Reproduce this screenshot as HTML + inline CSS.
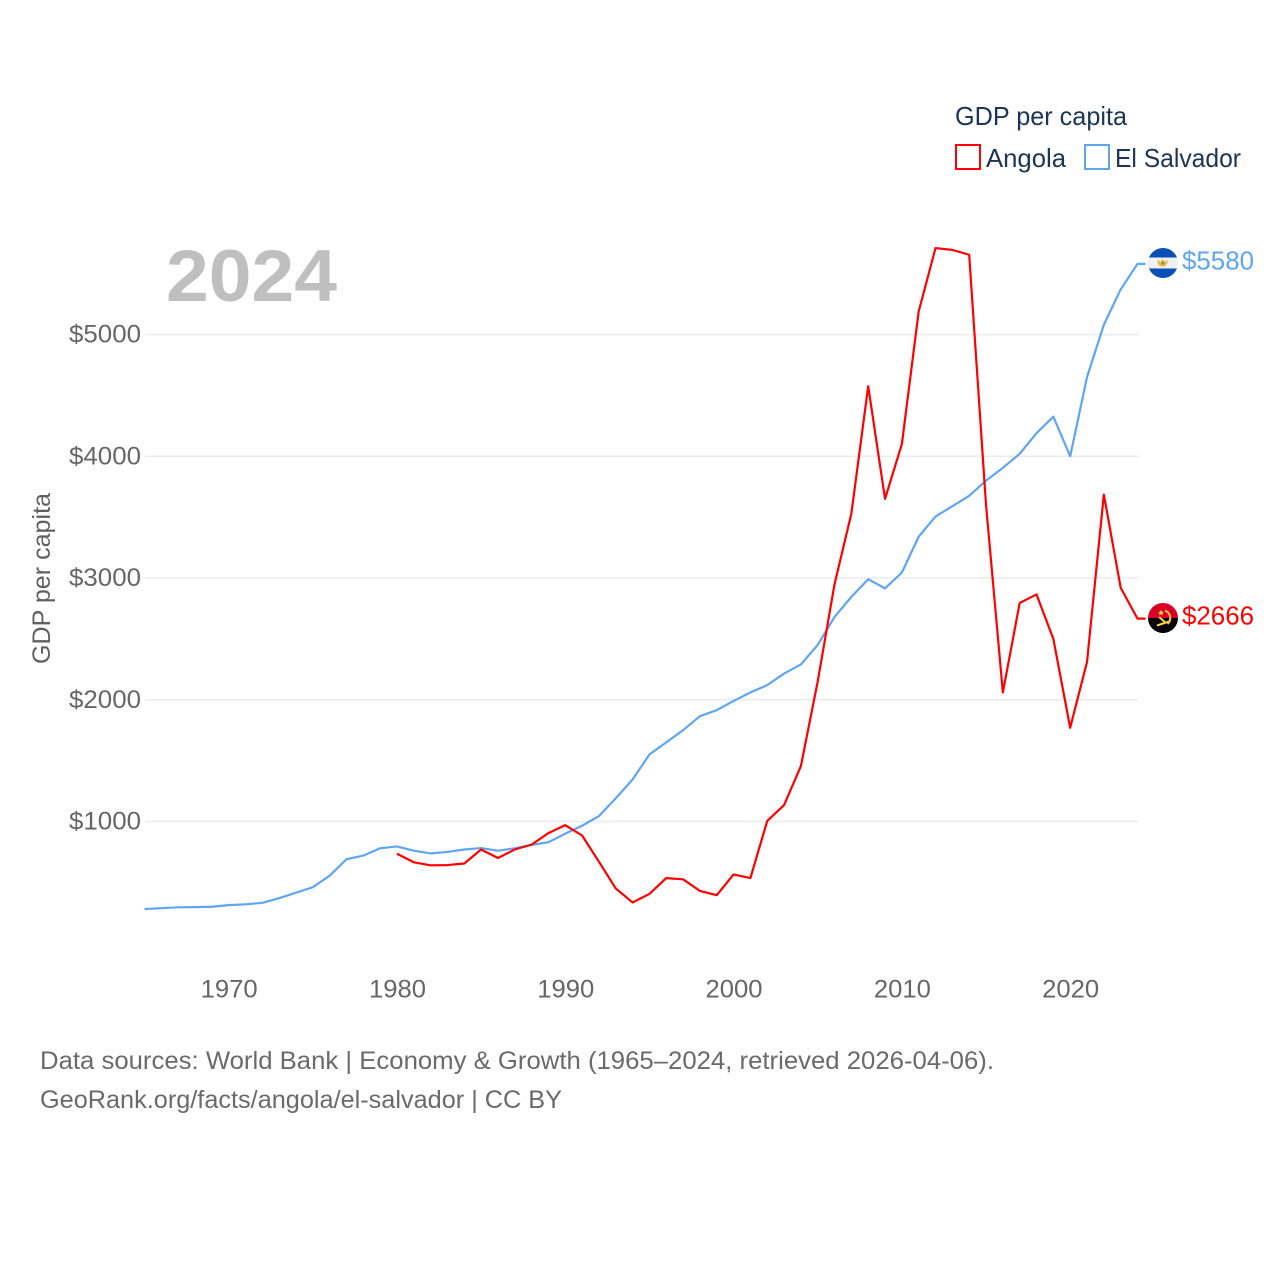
<!DOCTYPE html>
<html lang="en">
<head>
<meta charset="utf-8">
<title>GDP per capita: Angola and El Salvador</title>
<style>
html,body{margin:0;padding:0;background:#fff;}
svg{display:block;font-family:"Liberation Sans",sans-serif;}
</style>
</head>
<body>
<svg id="chart" xmlns="http://www.w3.org/2000/svg" width="1280" height="1280" viewBox="0 0 1280 1280">
  <rect x="0" y="0" width="1280" height="1280" fill="#fff"/>
  <g id="grid"></g>
  <g id="yticks"></g>
  <g id="xticks"></g>
  <text x="166" y="301" font-size="73" font-weight="bold" fill="#bfbfbf" textLength="171" lengthAdjust="spacingAndGlyphs">2024</text>
  <text transform="translate(50,664) rotate(-90)" font-size="25" fill="#5f5f5f" textLength="171" lengthAdjust="spacingAndGlyphs">GDP per capita</text>
  <g id="series"></g>

  <g>
    <text x="955" y="125" font-size="26" fill="#1b3555" textLength="172" lengthAdjust="spacingAndGlyphs">GDP per capita</text>
    <g>
      <rect x="956" y="145" width="24" height="24" fill="none" stroke="#ff0000" stroke-width="2"/>
      <text x="986" y="167" font-size="26" fill="#1b3555" textLength="80" lengthAdjust="spacingAndGlyphs">Angola</text>
    </g>
    <g>
      <rect x="1085" y="145" width="24" height="24" fill="none" stroke="#60a5f0" stroke-width="2"/>
      <text x="1115" y="167" font-size="26" fill="#1b3555" textLength="126" lengthAdjust="spacingAndGlyphs">El Salvador</text>
    </g>
  </g>

  <defs>
    <clipPath id="flag-clip-sv"><circle cx="1163" cy="263" r="15"/></clipPath>
    <clipPath id="flag-clip-ao"><circle cx="1163" cy="618" r="15"/></clipPath>
  </defs>
  <g clip-path="url(#flag-clip-sv)">
    <rect x="1148" y="248" width="30" height="30" fill="#f0f0f0"/>
    <rect x="1148" y="248" width="30" height="9.500" fill="#0a4fb5"/>
    <rect x="1148" y="268.500" width="30" height="9.500" fill="#0a4fb5"/>
    <path d="M1158 259.500 a4.800 4.800 0 0 0 1.500 6 a5 5 0 0 0 6 0 a4.800 4.800 0 0 0 1.500-6 l-2.500 3 l-2-4 l-2 4 z" fill="#f5b942"/>
    <circle cx="1163" cy="263" r="1.800" fill="#8a9a4a"/>
  </g>
  <g clip-path="url(#flag-clip-ao)">
    <rect x="1148" y="603" width="30" height="15" fill="#d80027"/>
    <rect x="1148" y="618" width="30" height="15" fill="#000"/>
    <path d="M1165 610.500 a8 8 0 0 1 2.500 13.500 M1157 625.500 l12-4 M1159 617 l7 6" fill="none" stroke="#ffd33c" stroke-width="2"/>
    <path d="M1161 610 l1 1.800 l2 .2 l-1.500 1.300 l.5 2 l-2-1 l-2 1 l.5-2 l-1.500-1.300 l2-.2z" fill="#ffd33c"/>
  </g>
  <text id="label-sv" x="1182" y="269.500" font-size="26" fill="#60a5f0" textLength="72" lengthAdjust="spacingAndGlyphs"></text>
  <text id="label-ao" x="1182" y="624.500" font-size="26" fill="#ff0000" textLength="72" lengthAdjust="spacingAndGlyphs"></text>

  <g>
    <text x="40" y="1069" font-size="25" fill="#6a6a6a" textLength="954" lengthAdjust="spacingAndGlyphs">Data sources: World Bank | Economy &amp; Growth (1965–2024, retrieved 2026-04-06).</text>
    <text x="40" y="1108" font-size="25" fill="#6a6a6a" textLength="522" lengthAdjust="spacingAndGlyphs">GeoRank.org/facts/angola/el-salvador | CC BY</text>
  </g>
</svg>
<script>
const yTickValues = [1000, 2000, 3000, 4000, 5000];
const xTickYears = [1970, 1980, 1990, 2000, 2010, 2020];
const elSalvadorStartYear = 1965;
const elSalvadorValues = [281, 288, 295, 297, 300, 313, 320, 332, 370, 415, 460, 555, 690, 720, 780, 795, 760, 738, 750, 770, 782, 760, 780, 808, 830, 900, 965, 1045, 1190, 1345, 1550, 1650, 1750, 1865, 1915, 1990, 2060, 2120, 2215, 2290, 2450, 2680, 2845, 2990, 2915, 3045, 3340, 3505, 3590, 3675, 3800, 3905, 4020, 4190, 4325, 4000, 4650, 5080, 5370, 5580];
const angolaStartYear = 1980;
const angolaValues = [735, 665, 640, 642, 655, 770, 700, 770, 810, 905, 970, 885, 670, 450, 335, 405, 535, 525, 430, 395, 565, 535, 1005, 1135, 1455, 2150, 2950, 3530, 4575, 3650, 4100, 5190, 5710, 5695, 5655, 3600, 2060, 2795, 2865, 2500, 1770, 2310, 3685, 2920, 2666];

const NS = 'http://www.w3.org/2000/svg';
const xScale = year => 144.5 + (year - 1965) * (993 / 59);
const yScale = value => 943.25 - value * 0.12175;

const grid = document.getElementById('grid');
const yTicks = document.getElementById('yticks');
const xTicks = document.getElementById('xticks');
const seriesGroup = document.getElementById('series');

yTickValues.forEach(v => {
  const line = document.createElementNS(NS, 'line');
  
  
  line.setAttribute('x1', 145);
  line.setAttribute('x2', 1138);
  line.setAttribute('y1', yScale(v));
  line.setAttribute('y2', yScale(v));
  line.setAttribute('stroke', '#ebebeb');
  line.setAttribute('stroke-width', '1.500');
  grid.appendChild(line);

  const t = document.createElementNS(NS, 'text');
  
  
  t.setAttribute('x', 69);
  t.setAttribute('y', yScale(v) + 8);
  t.setAttribute('font-size', '25');
  t.setAttribute('fill', '#666666');
  t.setAttribute('textLength', '72');
  t.setAttribute('lengthAdjust', 'spacingAndGlyphs');
  t.textContent = '$' + v;
  yTicks.appendChild(t);
});

xTickYears.forEach(y => {
  const t = document.createElementNS(NS, 'text');
  
  
  t.setAttribute('x', xScale(y) - 28);
  t.setAttribute('y', 997.500);
  t.setAttribute('font-size', '25');
  t.setAttribute('fill', '#666666');
  t.setAttribute('textLength', '57');
  t.setAttribute('lengthAdjust', 'spacingAndGlyphs');
  t.textContent = String(y);
  xTicks.appendChild(t);
});

function drawSeries(values, startYear, color, name) {
  const pts = values.map((v, i) => xScale(startYear + i).toFixed(2) + ',' + yScale(v).toFixed(2));
  const last = values[values.length - 1];
  pts.push((xScale(startYear + values.length - 1) + 8).toFixed(2) + ',' + yScale(last).toFixed(2));
  const line = document.createElementNS(NS, 'polyline');
  
  
  line.setAttribute('points', pts.join(' '));
  line.setAttribute('fill', 'none');
  line.setAttribute('stroke', color);
  line.setAttribute('stroke-width', '2.200');
  line.setAttribute('stroke-linejoin', 'round');
  seriesGroup.appendChild(line);
}
drawSeries(elSalvadorValues, elSalvadorStartYear, '#60a5f0', 'series-line-el-salvador');
drawSeries(angolaValues, angolaStartYear, '#ff0000', 'series-line-angola');

document.getElementById('label-sv').textContent = '$' + elSalvadorValues[elSalvadorValues.length - 1];
document.getElementById('label-ao').textContent = '$' + angolaValues[angolaValues.length - 1];
</script>
</body>
</html>
